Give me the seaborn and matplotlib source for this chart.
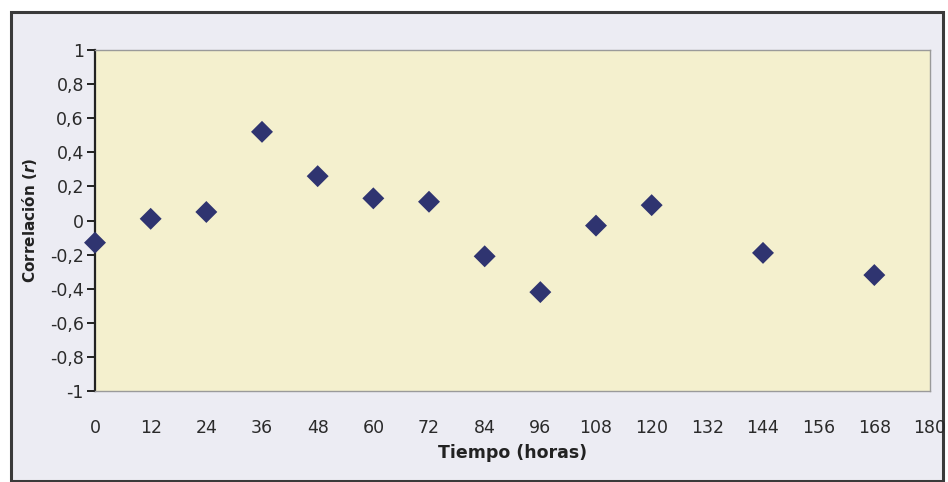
import matplotlib
matplotlib.use("Agg")
import matplotlib.pyplot as plt
import seaborn as sns
import pandas as pd
from matplotlib.patches import Rectangle

# Data
horas = [0, 12, 24, 36, 48, 60, 72, 84, 96, 108, 120, 144, 168]
correlacion = [-0.13, 0.01, 0.05, 0.52, 0.26, 0.13, 0.11, -0.21, -0.42, -0.03, 0.09, -0.19, -0.32]
x_ticks = list(range(0, 181, 12))
y_ticks = [1, 0.8, 0.6, 0.4, 0.2, 0, -0.2, -0.4, -0.6, -0.8, -1]
y_tick_labels = ["1", "0,8", "0,6", "0,4", "0,2", "0", "-0,2", "-0,4", "-0,6", "-0,8", "-1"]

sns.set_theme(style="white")
plt.rcParams['font.family'] = ['DejaVu Sans']

df = pd.DataFrame({"Tiempo": horas, "r": correlacion})

fig = plt.figure(figsize=(9.48, 4.82), dpi=100)
fig.patch.set_facecolor("white")
# chart area background with dark border
fig.patches.append(Rectangle((11/948, 1 - 481/482), (943-11)/948, (481-12)/482,
                             transform=fig.transFigure, facecolor="#ECECF3",
                             edgecolor="#3a3a3a", linewidth=2.2, zorder=-10))

ax = fig.add_axes([95/948, 1 - 391/482, (930-95)/948, (391-50)/482])
ax.set_zorder(5)
ax.set_facecolor("#F4F0CE")

sns.scatterplot(data=df, x="Tiempo", y="r", ax=ax, marker="D", s=125,
                color="#2F3470", edgecolor="none", zorder=3, clip_on=False)

ax.set_xlim(0, 180)
ax.set_ylim(-1, 1)
ax.set_xticks(x_ticks)
ax.set_xticklabels([str(t) for t in x_ticks])
ax.set_yticks(y_ticks)
ax.set_yticklabels(y_tick_labels)

for side in ["top", "right", "bottom"]:
    ax.spines[side].set_color("#9a9a9a")
    ax.spines[side].set_linewidth(1.0)
ax.spines["left"].set_color("#222222")
ax.spines["left"].set_linewidth(1.6)

ax.tick_params(axis="y", which="major", direction="out", length=6, width=1.4,
               color="#222222", left=True, labelsize=12.5, labelcolor="#2a2a2a", pad=2)
ax.tick_params(axis="x", which="major", bottom=False, labelsize=12.5,
               labelcolor="#2a2a2a", pad=14)

ax.set_xlabel("Tiempo (horas)", fontsize=12.5, fontweight="bold", color="#222222", labelpad=5)
ax.set_ylabel("Correlación ($\\mathbfit{r}$)", fontsize=11, fontweight="bold", color="#222222", labelpad=8)

fig.savefig("out.png", dpi=100, facecolor=fig.get_facecolor())
